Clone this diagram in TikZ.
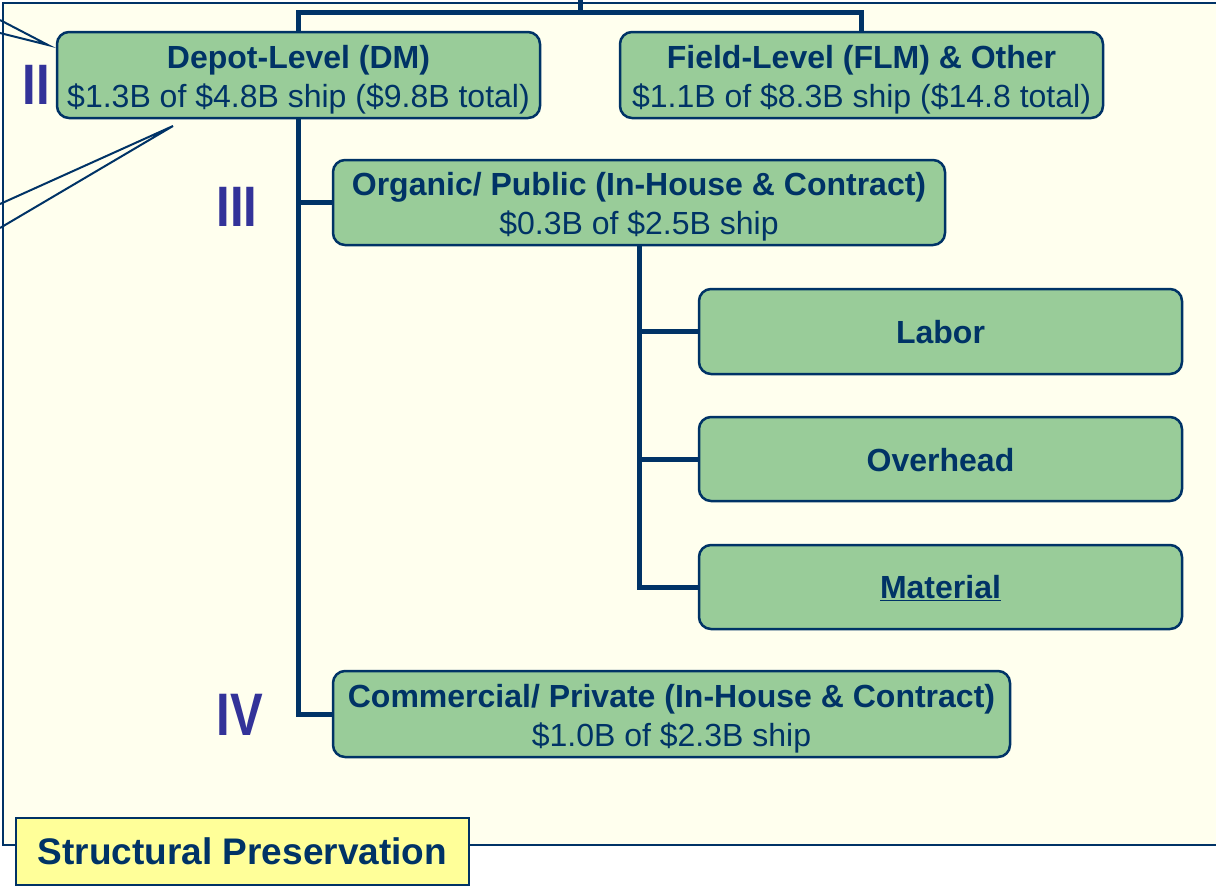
\documentclass[tikz,border=0pt]{standalone}
\usepackage{fontspec}
\setmainfont{Liberation Sans}
\definecolor{navy}{HTML}{003366}
\definecolor{boxgreen}{HTML}{99CC99}
\definecolor{cream}{HTML}{FFFFEE}
\definecolor{numeral}{HTML}{333399}
\definecolor{labelyellow}{HTML}{FFFF99}
\begin{document}
\begin{tikzpicture}[x=1pt,y=-1pt,
  box/.style={draw=navy,line width=2.5pt,fill=boxgreen,rounded corners=12pt,
    inner sep=0pt,minimum height=86pt},
  boxtext/.style={align=center,text=navy,inner sep=0pt,
    font=\fontsize{32}{39}\selectfont},
  conn/.style={draw=navy,line width=5pt},
  callout/.style={draw=navy,line width=2pt,line join=miter},
  roman/.style={text=numeral,font=\fontsize{57}{60}\selectfont\bfseries,inner sep=0pt,xscale=0.86}]
\useasboundingbox (0,0) rectangle (1216,886);
\clip (0,0) rectangle (1216,886);
% frame
\draw[navy,line width=2.5pt,fill=cream] (3,3) rectangle (1240,845);
% boxes
\node[box,minimum width=483pt] (depot) at (298.5,75) {};
\node[boxtext] (depott) at ([yshift=-5pt]depot.center) {\textbf{Depot-Level (DM)}\\\$1.3B of \$4.8B ship (\$9.8B total)};
\node[box,minimum width=483pt] (field) at (861.5,75) {};
\node[boxtext] (fieldt) at ([yshift=-5pt]field.center) {\textbf{Field-Level (FLM) \& Other}\\\$1.1B of \$8.3B ship (\$14.8 total)};
\node[box,minimum width=612pt,minimum height=85pt] (organic) at (639,202.5) {};
\node[boxtext] (organict) at ([yshift=-4.5pt]organic.center) {\textbf{Organic/ Public (In-House \& Contract)}\\\$0.3B of \$2.5B ship};
\node[box,minimum width=483pt,minimum height=85pt] (labor) at (940.5,331.5) {};
\node[boxtext] (labort) at ([yshift=-1pt]labor.center) {\textbf{Labor}};
\node[box,minimum width=483pt,minimum height=84pt] (overhead) at (940.5,459) {};
\node[boxtext] (overheadt) at ([yshift=-1pt]overhead.center) {\textbf{Overhead}};
\node[box,minimum width=483pt,minimum height=84pt] (material) at (940.5,587) {};
\node[boxtext] (materialt) at ([yshift=-1pt]material.center) {\textbf{\underline{Material}}};
\node[box,minimum width=677pt] (commercial) at (671.5,714) {};
\node[boxtext] (commercialt) at ([yshift=-5pt]commercial.center) {\textbf{Commercial/ Private (In-House \& Contract)}\\\$1.0B of \$2.3B ship};
% connectors
\coordinate (top) at (580,0);
\draw[conn] (top) -- (580,14);
\draw[conn] (depot.north) -- ++(0,-18) -| (field.north);
\draw[conn] (depot.south) |- (commercial.west);
\draw[conn] (depot.south |- organic.west) -- (organic.west);
\draw[conn] (organic.south) |- (material.west);
\draw[conn] (organic.south |- labor.west) -- (labor.west);
\draw[conn] (organic.south |- overhead.west) -- (overhead.west);
% callouts
\coordinate (c1a) at (0,20);
\coordinate (c1tip) at (48,45);
\coordinate (c1b) at (0,33);
\draw[callout] (c1a) -- (c1tip) -- (c1b);
\coordinate (c2a) at (0,204);
\coordinate (c2tip) at (173,126);
\coordinate (c2b) at (0,228);
\draw[callout] (c2a) -- (c2tip) -- (c2b);
% roman numerals
\node[roman] (r2) at (36,85) {II};
\node[roman] (r3) at (237,207) {III};
\node[roman,font=\fontsize{60}{63}\selectfont\bfseries,xscale=0.95] (r4) at (240,715) {IV};
% label
\node[draw=navy,line width=2.5pt,fill=labelyellow,minimum width=453pt,minimum height=67pt,inner sep=0pt,text=navy,font=\fontsize{37}{40}\selectfont\bfseries] (label) at (242.5,851.5) {Structural Preservation};
\end{tikzpicture}
\end{document}
